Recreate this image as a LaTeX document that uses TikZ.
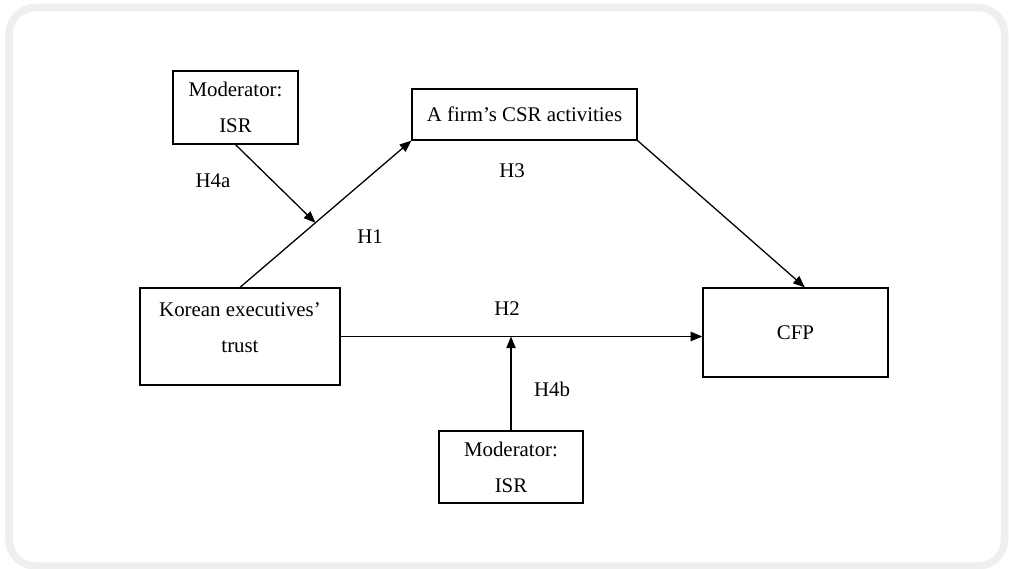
\documentclass[tikz,border=0pt]{standalone}
\usepackage{fontspec}
\setmainfont{Liberation Serif}
\usetikzlibrary{arrows.meta,calc}
\definecolor{framegray}{HTML}{EFEFEF}
\tikzset{
  box/.style={draw, line width=1.1pt, align=center, inner sep=0pt,
    font=\fontsize{17.8}{30.7}\selectfont},
  hlabel/.style={font=\fontsize{17.8}{21}\selectfont},
  link/.style={-{Triangle[length=10pt,width=8pt]}, line width=1.1pt}
}
\begin{document}
\begin{tikzpicture}[x=0.03cm, y=-0.03cm]
  \useasboundingbox (0,0) rectangle (1009,569);
  % frame
  \draw[framegray, line width=0.225cm, rounded corners=0.8cm] (9,7.5) rectangle (1004.5,566);
  % boxes
  \node[box, minimum width=3.75cm, minimum height=2.19cm] (modtop) at (235.5,107.5) {Moderator:\\ISR};
  \node[box, minimum width=6.75cm, minimum height=1.53cm] (csr) at (524.5,114.5) {A firm’s CSR activities};
  \node[box, minimum width=6cm, minimum height=2.91cm] (korean) at (240,336.5) {Korean executives’\\trust\\[-15pt]\mbox{}};
  \node[box, minimum width=5.55cm, minimum height=2.67cm] (cfp) at (795.5,332.5) {CFP};
  \node[box, minimum width=4.32cm, minimum height=2.16cm] (modbot) at (511,467) {Moderator:\\ISR};
  % hypotheses
  \node[hlabel] (h4a) at (213,181) {H4a};
  \node[hlabel] (h1) at (370,237) {H1};
  \node[hlabel] (h3) at (512,171) {H3};
  \node[hlabel] (h2) at (507,309) {H2};
  \node[hlabel] (h4b) at (552,389) {H4b};
  % arrows
  \draw[link] (korean.north) -- (csr.south west);
  \coordinate (h1hit) at ($(korean.north)!0.44!(csr.south west)$);
  \draw[link] (modtop.south) -- (h1hit);
  \draw[link] (csr.south east) -- ([xshift=8pt]cfp.north);
  \draw[link] (korean.east) -- (korean.east -| cfp.west);
  \draw[link] (modbot.north) -- (modbot.north |- korean.east);
\end{tikzpicture}
\end{document}
